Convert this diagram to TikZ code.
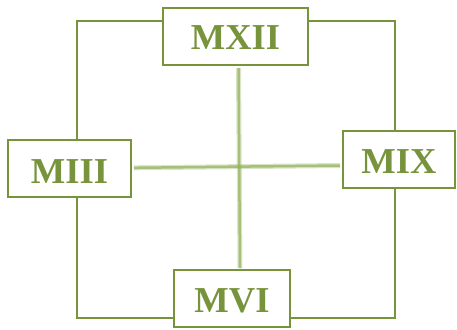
\documentclass[tikz,border=0pt]{standalone}
\usepackage{fontspec}
\setmainfont{Liberation Serif}
\definecolor{olive}{HTML}{77933C}
\definecolor{crossgreen}{HTML}{94B25F}
\tikzset{
  box/.style={draw=olive, line width=2pt, fill=white, inner sep=0pt,
    minimum height=57pt, text height=28pt, text depth=0pt,
    text=olive, font=\fontsize{36.5}{40}\selectfont\bfseries},
  frame/.style={draw=olive, line width=1.5pt},
  fuzzy/.style={draw=crossgreen, line width=5pt, opacity=0.35},
  fuzzycore/.style={draw=crossgreen, line width=2.5pt, opacity=0.75},
}
\begin{document}
\begin{tikzpicture}[x=1pt,y=-1pt]
\useasboundingbox (0,0) rectangle (457,329);
\coordinate (tl) at (77,21);
\coordinate (br) at (395,318);
\draw[frame] (tl) rectangle (br);
\node[box, minimum width=145pt, text height=26pt] (mxii) at (235.5,36.5) {MXII};
\node[box, minimum width=123pt, text height=30pt] (miii) at (69.5,168.3) {MIII};
\node[box, minimum width=112pt] (mix) at (399,159) {MIX};
\node[box, minimum width=116pt] (mvi) at (232,298.7) {MVI};
\foreach \s in {fuzzy,fuzzycore}{
  \draw[\s] ([xshift=3pt,yshift=-2pt]mxii.south) -- ([xshift=8pt,yshift=1pt]mvi.north);
  \draw[\s] ([xshift=2pt,yshift=0.5pt]miii.east) -- ([xshift=-2pt,yshift=-6.5pt]mix.west);
}
\end{tikzpicture}
\end{document}
